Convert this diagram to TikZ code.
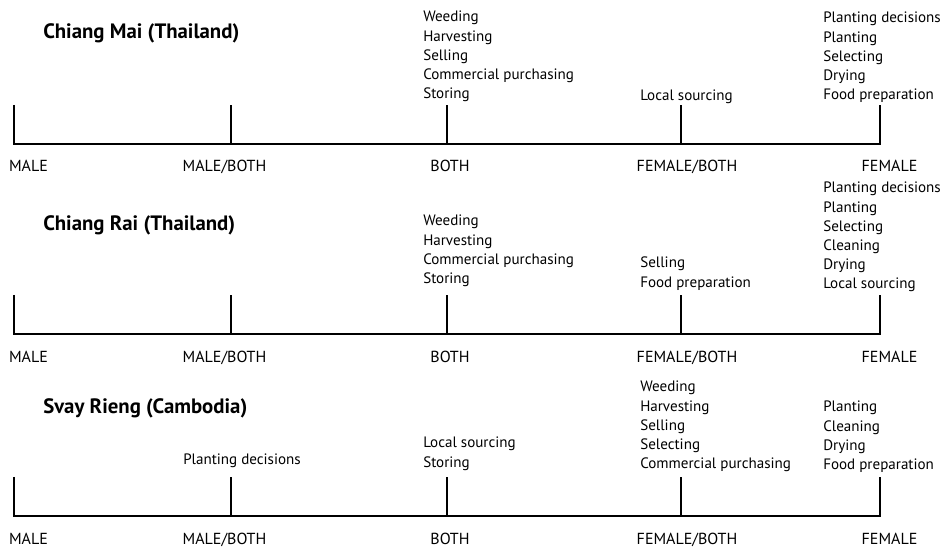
\documentclass[tikz,border=0pt]{standalone}
\usepackage{fontspec}
\setmainfont{PT Sans}

\tikzset{
  axisline/.style={line width=0.9pt, line join=miter},
  actlist/.style={anchor=north west, align=left, inner sep=0pt, font=\fontsize{11.3}{14.4}\selectfont},
  pole/.style={anchor=base, inner sep=0pt, font=\fontsize{12}{14.4}\selectfont},
  sitetitle/.style={anchor=base west, inner sep=0pt, font=\fontsize{15.6}{18}\selectfont\bfseries},
}

\begin{document}
\begin{tikzpicture}[x=0.75pt,y=0.75pt,yscale=-1,xscale=1]
\useasboundingbox (0,0) rectangle (946,548);

%%%%% Chiang Mai
\coordinate (cmM) at (14,144);   \coordinate (cmMt) at (14,105);
\coordinate (cmMB) at (231,144); \coordinate (cmMBt) at (231,105);
\coordinate (cmB) at (447,144);  \coordinate (cmBt) at (447,105);
\coordinate (cmFB) at (681,144); \coordinate (cmFBt) at (681,105);
\coordinate (cmF) at (880,144);  \coordinate (cmFt) at (880,105);
%Straight Lines
\draw [axisline] (cmMt) -- (cmM) -- (cmF) -- (cmFt) ;
\draw [axisline] (cmMB) -- (cmMBt) ;
\draw [axisline] (cmB) -- (cmBt) ;
\draw [axisline] (cmFB) -- (cmFBt) ;

% Text Node
\node [sitetitle] (cmTitle) at (43,39) {Chiang Mai (Thailand)};
% Text Node
\node [actlist] (cmBothList) at (423,11) {Weeding\\Harvesting\\Selling\\Commercial purchasing\\Storing};
% Text Node
\node [actlist] (cmFBList) at (640,90) {Local sourcing};
% Text Node
\node [actlist] (cmFList) at (823,12) {Planting decisions\\Planting\\Selecting\\Drying\\Food preparation};
% Text Node
\node [pole] (cmLM) at (28.5,172) {MALE};
\node [pole] (cmLMB) at (224.5,172) {MALE/BOTH};
\node [pole] (cmLB) at (450,172) {BOTH};
\node [pole] (cmLFB) at (687,172) {FEMALE/BOTH};
\node [pole] (cmLF) at (889.5,172) {FEMALE};

%%%%% Chiang Rai
\coordinate (crM) at (14,334);   \coordinate (crMt) at (14,295);
\coordinate (crMB) at (231,334); \coordinate (crMBt) at (231,295);
\coordinate (crB) at (447,334);  \coordinate (crBt) at (447,295);
\coordinate (crFB) at (681,334); \coordinate (crFBt) at (681,295);
\coordinate (crF) at (880,334);  \coordinate (crFt) at (880,295);
%Straight Lines
\draw [axisline] (crMt) -- (crM) -- (crF) -- (crFt) ;
\draw [axisline] (crMB) -- (crMBt) ;
\draw [axisline] (crB) -- (crBt) ;
\draw [axisline] (crFB) -- (crFBt) ;

% Text Node
\node [sitetitle] (crTitle) at (43,231) {Chiang Rai (Thailand)};
% Text Node
\node [actlist] (crBothList) at (423,215) {Weeding\\Harvesting\\Commercial purchasing\\Storing};
% Text Node
\node [actlist] (crFBList) at (640,257) {Selling\\Food preparation};
% Text Node
\node [actlist] (crFList) at (823,182) {Planting decisions\\Planting\\Selecting\\Cleaning\\Drying\\Local sourcing};
% Text Node
\node [pole] (crLM) at (28.5,363) {MALE};
\node [pole] (crLMB) at (224.5,363) {MALE/BOTH};
\node [pole] (crLB) at (450,363) {BOTH};
\node [pole] (crLFB) at (687,363) {FEMALE/BOTH};
\node [pole] (crLF) at (889.5,363) {FEMALE};

%%%%% Svay Rieng
\coordinate (srM) at (14,516);   \coordinate (srMt) at (14,477);
\coordinate (srMB) at (231,516); \coordinate (srMBt) at (231,477);
\coordinate (srB) at (447,516);  \coordinate (srBt) at (447,477);
\coordinate (srFB) at (681,516); \coordinate (srFBt) at (681,477);
\coordinate (srF) at (880,516);  \coordinate (srFt) at (880,477);
%Straight Lines
\draw [axisline] (srMt) -- (srM) -- (srF) -- (srFt) ;
\draw [axisline] (srMB) -- (srMBt) ;
\draw [axisline] (srB) -- (srBt) ;
\draw [axisline] (srFB) -- (srFBt) ;

% Text Node
\node [sitetitle] (srTitle) at (43,414) {Svay Rieng (Cambodia)};
% Text Node
\node [actlist] (srMBList) at (183,454) {Planting decisions};
% Text Node
\node [actlist] (srBothList) at (423,437) {Local sourcing\\Storing};
% Text Node
\node [actlist] (srFBList) at (640,381) {Weeding\\Harvesting\\Selling\\Selecting\\Commercial purchasing};
% Text Node
\node [actlist] (srFList) at (823,401) {Planting\\Cleaning\\Drying\\Food preparation};
% Text Node
\node [pole] (srLM) at (28.5,545) {MALE};
\node [pole] (srLMB) at (224.5,545) {MALE/BOTH};
\node [pole] (srLB) at (450,545) {BOTH};
\node [pole] (srLFB) at (687,545) {FEMALE/BOTH};
\node [pole] (srLF) at (889.5,545) {FEMALE};

\end{tikzpicture}
\end{document}
